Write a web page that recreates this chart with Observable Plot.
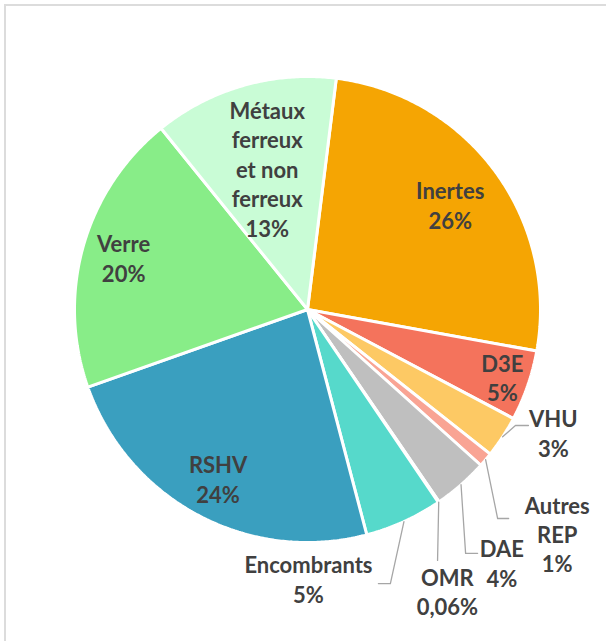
<!DOCTYPE html>
<html><head><meta charset="utf-8">
<script src="https://cdn.jsdelivr.net/npm/d3@7"></script>
<script src="https://cdn.jsdelivr.net/npm/@observablehq/plot@0.6"></script>
<style>
html,body{margin:0;padding:0;background:#fff;}
#chart{position:absolute;left:0;top:0;}
#frame{position:absolute;left:4px;top:4px;width:700px;height:700px;border-left:2px solid #dcdcdc;border-top:2px solid #dcdcdc;pointer-events:none;}
</style></head><body>
<div id="chart"></div><div id="frame"></div>
<script>
// ---- data ----
const categories = ["Inertes","D3E","VHU","Autres REP","DAE","OMR","Encombrants","RSHV","Verre","Métaux ferreux et non ferreux"];
const labelNames = ["Inertes","D3E","VHU","Autres\nREP","DAE","OMR","Encombrants","RSHV","Verre","Métaux\nferreux\net non\nferreux"];
const values = [25.9, 4.9, 2.9, 1.0, 3.8, 0.06, 5.4, 23.7, 19.6, 12.8];
const percentLabels = ["26%","5%","3%","1%","4%","0,06%","5%","24%","20%","13%"];
const colors = ["#F5A503","#F4735C","#FDC964","#F9A494","#BFBFBF","#7F7F7F","#56D9CB","#3A9FBF","#88ED88","#C9FCD6"];

// ---- layout ----
const startAngle = 7.1; // degrees clockwise from 12 o'clock
const R = 233, cx = 307, cy = 309;
// label placement (polar: radius fraction, absolute angle in degrees or mid-angle)
const labelLayout = [
  {r:0.76}, {r:0.885}, {r:1.18, a:116.6}, {r:1.44, a:131.9}, {r:1.37, a:142.5},
  {r:1.35, a:153.6}, {r:1.155, a:179.8}, {r:0.82}, {r:0.82}, {r:0.63}
];
const leaderLayout = {
  2:{r:1.071, a:117.7, elbow:-13},
  3:{r:1.245, a:136.1, elbow:-11},
  4:{r:1.276, a:145.1, elbow:-12},
  5:{r:1.213, a:152.6, elbow:0},
  6:{r:1.215, a:165.5, elbow:12}
};

const rad = d => d * Math.PI / 180;
const polar = (r, a) => ({x: r * Math.sin(rad(a)), y: r * Math.cos(rad(a))});

const total = d3.sum(values);
let acc = startAngle;
const slices = values.map((v, i) => {
  const a0 = acc, a1 = acc + v / total * 360;
  acc = a1;
  return {i, name: categories[i], a0, a1, mid: (a0 + a1) / 2, color: colors[i]};
});

const slicePts = [];
for (const s of slices) {
  slicePts.push({name: s.name, color: s.color, x: 0, y: 0});
  const n = Math.max(2, Math.ceil((s.a1 - s.a0) / 0.5));
  for (let k = 0; k <= n; k++) {
    const p = polar(1, s.a0 + (s.a1 - s.a0) * k / n);
    slicePts.push({name: s.name, color: s.color, ...p});
  }
  slicePts.push({name: s.name, color: s.color, x: 0, y: 0});
}

const labels = slices.map(s => {
  const L = labelLayout[s.i];
  const p = polar(L.r, L.a ?? s.mid);
  return {...p, text: labelNames[s.i] + "\n" + percentLabels[s.i]};
});

const leaderPts = [];
for (const s of slices) {
  const L = leaderLayout[s.i];
  if (!L) continue;
  const start = polar(1, s.mid);
  const end = polar(L.r, L.a);
  leaderPts.push({name: s.name, ...start});
  if (L.elbow !== 0) leaderPts.push({name: s.name, x: end.x + L.elbow / R, y: end.y});
  leaderPts.push({name: s.name, ...end});
}

const chart = Plot.plot({
  width: 606, height: 641, margin: 0,
  style: {background: "transparent"},
  x: {domain: [-1, 1], range: [cx - R, cx + R], axis: null},
  y: {domain: [-1, 1], range: [cy + R, cy - R], axis: null},
  color: {type: "identity"},
  marks: [
    Plot.line(slicePts, {x: "x", y: "y", z: "name", fill: d => d.color, stroke: "white", strokeWidth: 3, strokeLinejoin: "miter"}),
    Plot.line(leaderPts, {x: "x", y: "y", z: "name", stroke: "#A6A6A6", strokeWidth: 1.3}),
    Plot.text(labels, {x: "x", y: "y", text: "text", fontSize: 22, fontWeight: "bold", fontFamily: "Lato", fill: "#404040", lineHeight: 1.34})
  ]
});
document.getElementById("chart").appendChild(chart);
</script>
</body></html>
